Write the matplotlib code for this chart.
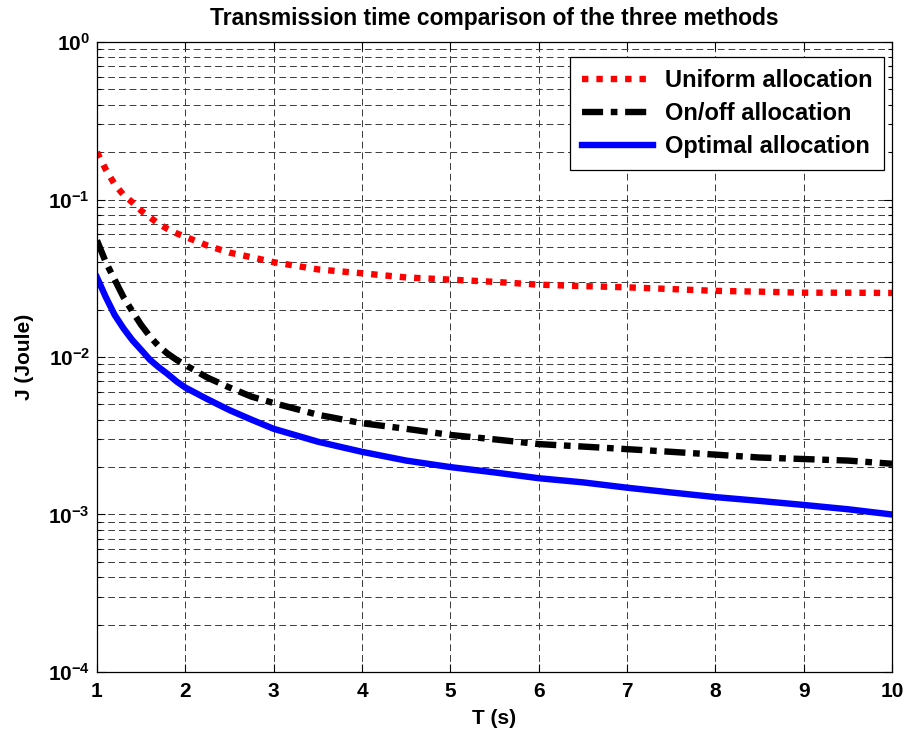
import numpy as np
import matplotlib.pyplot as plt
from matplotlib.ticker import LogLocator, NullFormatter

# valeurs
T = [1, 1.1, 1.2, 1.3, 1.4, 1.5, 1.6, 1.7, 1.8, 1.9, 2, 2.25, 2.5, 2.75, 3, 3.5, 4,
     4.5, 5, 5.5, 6, 6.5, 7, 7.5, 8, 8.5, 9, 9.5, 10]
J_uniform = [0.20, 0.155, 0.125, 0.107, 0.096, 0.085, 0.077, 0.070, 0.065, 0.061, 0.058,
             0.051, 0.046, 0.043, 0.040, 0.036, 0.034, 0.032, 0.031, 0.030, 0.0288, 0.0282,
             0.0277, 0.027, 0.0263, 0.026, 0.0256, 0.0256, 0.0255]
J_onoff = [0.055, 0.040, 0.031, 0.024, 0.0195, 0.016, 0.0135, 0.0117, 0.0105, 0.0096, 0.0089,
           0.0074, 0.0064, 0.0056, 0.0051, 0.0043, 0.0038, 0.0035, 0.0032, 0.0030, 0.0028,
           0.0027, 0.0026, 0.0025, 0.0024, 0.0023, 0.00225, 0.0022, 0.0021]
J_optimal = [0.032, 0.024, 0.0185, 0.0152, 0.0128, 0.0111, 0.0096, 0.0086, 0.0078, 0.0070, 0.0064,
             0.0054, 0.0046, 0.0040, 0.0035, 0.0029, 0.0025, 0.0022, 0.0020, 0.00185, 0.0017,
             0.0016, 0.00148, 0.00138, 0.00129, 0.00122, 0.00115, 0.00108, 0.00100]

plt.rcParams['font.family'] = ['Liberation Sans', 'DejaVu Sans']
plt.rcParams['font.weight'] = 'bold'
plt.rcParams['mathtext.default'] = 'bf'

fig = plt.figure(figsize=(9.08, 7.37), dpi=100)
ax = fig.add_axes([0.1068, 0.0882, 0.8756, 0.8548])

lw = 4.6
ax.semilogy(T, J_uniform, color='red', linestyle=(0, (1, 1.25)), lw=lw, label='Uniform allocation')
ax.semilogy(T, J_onoff, color='black', linestyle=(0, (3.3, 1.2, 1.05, 1.2)), lw=lw, label='On/off allocation')
ax.semilogy(T, J_optimal, color='blue', linestyle='-', lw=lw, label='Optimal allocation')

ax.set_xlim(1, 10)
ax.set_ylim(1e-4, 1)
ax.set_xticks(range(1, 11))
ax.yaxis.set_major_locator(LogLocator(base=10, numticks=10))
ax.yaxis.set_minor_locator(LogLocator(base=10, subs=np.arange(2, 10), numticks=20))
ax.yaxis.set_minor_formatter(NullFormatter())

gstyle = dict(color='#3a3a3a', linestyle=(0, (7, 4)), lw=0.7)
ax.grid(True, which='major', axis='both', **gstyle)
ax.grid(True, which='minor', axis='y', **gstyle)
ax.tick_params(which='both', direction='in', top=True, right=True, labelsize=15, width=0.8)
ax.tick_params(axis='x', which='major', pad=7)
ax.tick_params(axis='y', which='major', pad=5)
ax.tick_params(which='major', length=6)
ax.tick_params(which='minor', length=3)
for sp in ax.spines.values():
    sp.set_linewidth(0.9)

ax.set_title('Transmission time comparison of the three methods', fontsize=16.5, fontweight='bold', pad=12)
ax.set_xlabel('T (s)', fontsize=15, fontweight='bold', labelpad=6)
ax.set_ylabel('J (Joule)', fontsize=15, fontweight='bold', labelpad=10)

leg = ax.legend(loc='upper right', fontsize=17, frameon=True, fancybox=False, edgecolor='black',
                framealpha=1, handlelength=3.0, handletextpad=0.5, borderpad=0.5,
                labelspacing=0.42, borderaxespad=0, bbox_to_anchor=(0.990, 0.976))
leg.get_frame().set_linewidth(0.9)

fig.savefig('out.png', dpi=100)
